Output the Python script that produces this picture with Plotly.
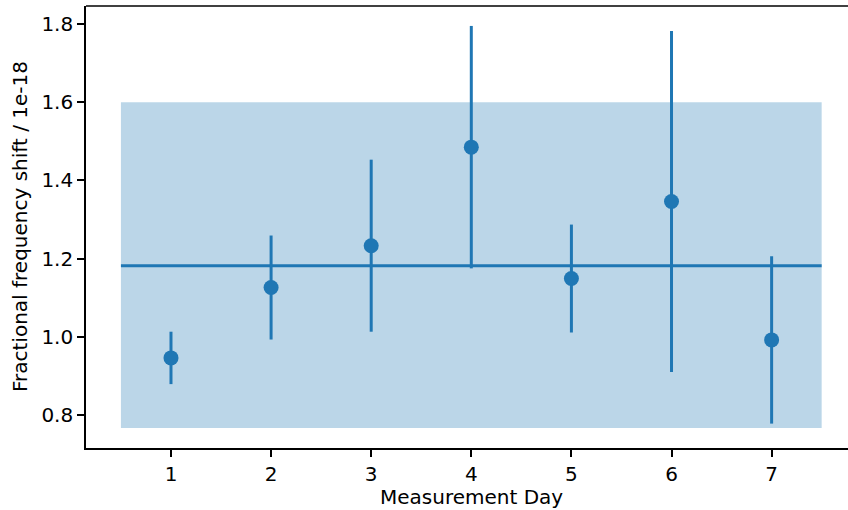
import plotly.graph_objects as go

days = [1, 2, 3, 4, 5, 6, 7]
shift = [0.946, 1.126, 1.233, 1.485, 1.149, 1.346, 0.992]
err = [0.067, 0.133, 0.220, 0.310, 0.138, 0.436, 0.214]
mean_shift = 1.182
band_x = [0.5, 7.5]
band_lo = 0.767
band_hi = 1.600

blue = "#1f77b4"
font = "DejaVu Sans"

fig = go.Figure()
fig.add_shape(type="rect", xref="x", yref="y", x0=band_x[0], x1=band_x[1],
              y0=band_lo, y1=band_hi, fillcolor="rgba(31,119,180,0.3)",
              line=dict(width=0), layer="below")
fig.add_trace(go.Scatter(x=band_x, y=[mean_shift, mean_shift], mode="lines",
                         line=dict(color=blue, width=3), showlegend=False))
fig.add_trace(go.Scatter(x=days, y=shift, mode="markers",
                         marker=dict(color=blue, size=15),
                         error_y=dict(type="data", array=err, color=blue,
                                      thickness=3, width=0),
                         showlegend=False))

fig.add_shape(type="line", xref="paper", yref="paper", x0=0, x1=1, y0=1, y1=1,
              line=dict(color="black", width=1.6))

fig.add_annotation(text="Fractional frequency shift / 1e-18", xref="paper", yref="paper",
                   x=(20 - 86) / 762, y=0.5, textangle=-90, showarrow=False,
                   xanchor="center", yanchor="middle",
                   font=dict(family=font, size=20, color="black"))
fig.add_annotation(text="Measurement Day", xref="paper", yref="paper",
                   x=(471 - 86) / 762, y=-(497 - 448) / 442, showarrow=False,
                   xanchor="center", yanchor="middle",
                   font=dict(family=font, size=20, color="black"))

fig.update_layout(
    width=848, height=510,
    margin=dict(l=86, r=0, t=6, b=62),
    paper_bgcolor="white", plot_bgcolor="white",
    font=dict(family=font, size=20, color="black"),
    xaxis=dict(range=[0.151, 7.763], tickvals=days, ticks="outside", ticklen=7,
               tickwidth=1.6, tickcolor="black", showline=True, linecolor="black",
               linewidth=1.6, showgrid=False, zeroline=False,
               tickfont=dict(family=font, size=20, color="black")),
    yaxis=dict(range=[0.7156, 1.846], tickvals=[0.8, 1.0, 1.2, 1.4, 1.6, 1.8],
               ticktext=["0.8", "1.0", "1.2", "1.4", "1.6", "1.8"],
               ticks="outside", ticklen=7, tickwidth=1.6, tickcolor="black",
               showline=True, linecolor="black", linewidth=1.6, showgrid=False,
               zeroline=False, tickfont=dict(family=font, size=20, color="black")),
)

fig.write_html("out.html")
